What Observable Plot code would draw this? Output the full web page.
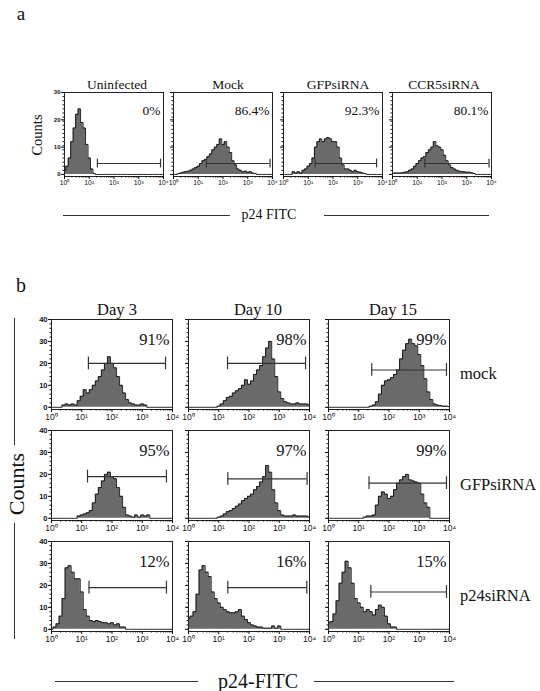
<!DOCTYPE html>
<html><head><meta charset="utf-8">
<script src="https://cdn.jsdelivr.net/npm/d3@7"></script>
<script src="https://cdn.jsdelivr.net/npm/@observablehq/plot@0.6"></script>
<style>
body{margin:0;background:#fff;}
#fig{position:relative;width:540px;height:691px;overflow:hidden;font-family:"Liberation Serif","Times New Roman",serif;color:#111;background:#fff;}
.t{position:absolute;white-space:nowrap;line-height:1;}
.ln{position:absolute;background:#333;}
</style></head><body><div id="fig"></div>
<script>
// log10 fluorescence channel positions (decades)
const channels = [0,0.1,0.2,0.3,0.4,0.5,0.6,0.7,0.8,0.9,1.0,1.1,1.2,1.3,1.4,1.5,1.6,1.7,1.8,1.9,2.0,2.1,2.2,2.3,2.4,2.5,2.6,2.7,2.8,2.9,3.0,3.1,3.2,3.3,3.4,3.5,3.6,3.7,3.8,3.9,4.0];
const xTickValues = [0,1,2,3,4];

// Panel a
const aTitles = ["Uninfected","Mock","GFPsiRNA","CCR5siRNA"];
const aPercents = ["0%","86.4%","92.3%","80.1%"];
const aUninfected = [1.5,3,6,12,17,22,24,19,17,11,6,2,0.3,0,0,0,0,0,0,0,0,0,0,0,0,0,0,0,0,0,0,0,0,0,0,0,0,0,0,0,0];
const aMock = [0,0,0.3,0.5,0.8,1,1.2,1.5,2,2.5,3,4,5,5.5,6.5,7.5,9,10,11,13,11,12,10,8,5,3.5,2,1.5,1,1.2,0.8,1,0.5,0.3,0,0,0,0,0,0,0];
const aGFPsiRNA = [0,0,0,0,1,0.5,1,0.5,1.5,2,3,4,6,10,12,13,12,13,13.5,13,12,12,10,6,3.5,2,2,1.5,1,1.5,1,0.8,0.5,0.3,0,0,0,0,0,0,0];
const aCCR5siRNA = [0.3,0.5,0.5,0.5,0.6,0.8,1,1.5,2,3,4,5,6,6.5,8,9,10,12,10.5,10,9,7,5,3.5,2.5,2,1.5,1.2,1,1,0.8,0.8,0.6,0.3,0,0,0,0,0,0,0];
const aGates = [[1.33,3.88,4],[1.33,3.9,4],[1.28,3.76,4],[1.31,3.9,4]];
const aYTicks = [0,10,20,30];

// Panel b
const bDays = ["Day 3","Day 10","Day 15"];
const bRows = ["mock","GFPsiRNA","p24siRNA"];
const bPercents = [["91%","98%","99%"],["95%","97%","99%"],["12%","16%","15%"]];
const bMockDay3 = [0,0,0,0,1,1.5,1,1.5,1,3,5,8,6.5,8,10,12,14,17,20,23,20,18,14,10,6.5,3.5,2,1.5,1,1,1.5,1,0,0,0,0,0,0,0,0,0];
const bMockDay10 = [0,0,0,0,0,0,0,0,0,0,0.5,1.5,3,4.5,5,6.5,7.5,8.5,10,12.5,10.5,12,15,17,19,23,27,30,22,14,7,4,2.5,2,1.5,1.5,2,1.5,1.5,1.5,1];
const bMockDay15 = [0,0,0,0,0,0,0,0,0,0,0,0,0,0,0.5,1,2.5,6,10,12,12.5,13.5,15,17,22,26,29,31,29,28,24,19,13,7,3.5,1.5,1,0.8,0.5,0.5,0.3];
const bGFPDay3 = [0,0,0,0,0,0,0,0,0,1,1.5,2,2.5,3.5,7,11,14,17,20,21,19,18,14,10,5,1.5,1,0.5,1.5,0.5,1.5,1,1.5,0,0,0,0,0,0,0,0];
const bGFPDay10 = [0,0,0,0,0,0,0,0,0,0,0.5,1,2,3,3.5,4.5,5.5,6.5,8,9,10,11,13,14.5,16.5,19,24,21,13,7,3.5,1.5,1,1,1,1.5,1,1,1,1,0.5];
const bGFPDay15 = [0,0,0,0,0,0,0,0,0,0,0,0,0.5,1,1,1.5,6,10,12,11,9,10,13,16,17.5,19,20,17.5,17,16.5,16,11,7,5,0,0,0,0,0,0,0];
const bP24Day3 = [0,1,2.5,6,14,28,29,26,23,23,17,9,6,4,3.5,4,3.5,3,3,2.5,3,2,2.5,1,1,0,0,0,0,0,0,0,0,0,0,0,0,0,0,0,0];
const bP24Day10 = [5,6,8,16,27,29,26,24,17,14,12,10,9,8,7.5,7.5,8,9,6,4.5,3,2,1.5,1,1,0.5,0.5,0.5,1.5,0.5,1.5,0,0,0,0,0,0,0,0,0,0];
const bP24Day15 = [3,3.5,7,13,21,26,31,28,21,14,12,10,8,9,8,6.5,9,11,10,6,2.5,1,1,0,0,0,0,0,0,0,0,0,0,0,0,0,0,0,0,0,0];
const bGates = [[[1.22,3.77,20],[1.29,3.87,20],[1.43,3.9,17]],
                [[1.19,3.8,19],[1.3,3.92,18],[1.34,3.9,16]],
                [[1.24,3.8,19],[1.3,3.91,19],[1.4,3.9,17]]];
const bYTicks = [0,10,20,30,40];

const fig = document.getElementById("fig");
const sup = {0:"\u2070",1:"\u00B9",2:"\u00B2",3:"\u00B3",4:"\u2074"};
const minorX = d3.range(0,4).flatMap(n => d3.range(2,10).map(k => n + Math.log10(k)));
const hasAxis = typeof Plot.axisX === "function";

function addText(s, x, y, size, opts = {}) {
  const d = document.createElement("div");
  d.className = "t"; d.textContent = s;
  d.style.left = x + "px"; d.style.top = y + "px"; d.style.fontSize = size + "px";
  const a = opts.anchor || "middle";
  const tx = a === "middle" ? "-50%" : a === "end" ? "-100%" : "0";
  d.style.transform = `translate(${tx},-50%)` + (opts.rotate ? ` rotate(${opts.rotate}deg)` : "");
  fig.appendChild(d);
}
function hline(x1, x2, y, w = 1) {
  const d = document.createElement("div"); d.className = "ln";
  d.style.left = x1 + "px"; d.style.top = y + "px"; d.style.width = (x2 - x1) + "px"; d.style.height = w + "px";
  fig.appendChild(d);
}
function vline(x, y1, y2, w = 1) {
  const d = document.createElement("div"); d.className = "ln";
  d.style.left = x + "px"; d.style.top = y1 + "px"; d.style.height = (y2 - y1) + "px"; d.style.width = w + "px";
  fig.appendChild(d);
}

function panel({counts, gate, pct, ymax, yTicks, showY, w, h, ML, pctSize, cap, tickFont, yFont, pctDy}) {
  const MR = 10, MT = 2, MB = 15;
  const data = channels.map((x, i) => ({x, y: counts[i]}));
  const yMinor = d3.range(0, ymax + 0.001, ymax / 20);
  const marks = [
    Plot.areaY(data, {x: "x", y: "y", curve: "step", fill: "#6a6a6a"}),
    Plot.lineY(data, {x: "x", y: "y", curve: "step", stroke: "#111", strokeWidth: 0.9}),
    Plot.ruleY([gate], {y: d => d[2], x1: d => d[0], x2: d => d[1], stroke: "#333", strokeWidth: 1.2}),
    Plot.ruleX([gate[0], gate[1]], {x: d => d, y1: gate[2] - cap, y2: gate[2] + cap, stroke: "#333", strokeWidth: 1.2}),
    Plot.text([pct], {frameAnchor: "top-right", text: d => d, dx: -3, dy: pctDy, fontSize: pctSize, fontFamily: "Liberation Serif, Times New Roman, serif", textAnchor: "end", fill: "#111"}),
    Plot.frame({stroke: "#222"})
  ];
  if (hasAxis) {
    marks.push(
      Plot.axisX(xTickValues, {tickFormat: d => "10" + sup[d], tickSize: 3, tickPadding: 1, fontSize: tickFont, label: null}),
      Plot.axisX(minorX, {tickFormat: () => "", tickSize: 1.5, label: null}),
      Plot.axisY(yTicks, {tickFormat: showY ? d => d : () => "", tickSize: 3, tickPadding: 1, fontSize: yFont, fontWeight: "bold", label: null}),
      Plot.axisY(yMinor, {tickFormat: () => "", tickSize: 1.5, label: null})
    );
  }
  const svg = Plot.plot({
    width: w + ML + MR, height: h + MT + MB,
    marginLeft: ML, marginRight: MR, marginTop: MT, marginBottom: MB,
    x: Object.assign({domain: [0, 4]}, hasAxis ? {} : {ticks: xTickValues, tickFormat: d => "10" + sup[d], tickSize: 3, label: null}),
    y: Object.assign({domain: [-ymax * 0.025, ymax]}, hasAxis ? {} : {ticks: yTicks, tickFormat: showY ? d => d : () => "", tickSize: 3, label: null}),
    style: {background: "transparent", overflow: "visible", fontFamily: "Liberation Sans, Arial, sans-serif", fontSize: tickFont + "px", color: "#111"},
    marks
  });
  return {svg, ML, MT};
}
function place(p, left, top) {
  const wrap = document.createElement("div");
  wrap.style.position = "absolute";
  wrap.style.left = (left - p.ML) + "px";
  wrap.style.top = (top - p.MT) + "px";
  wrap.appendChild(p.svg);
  fig.appendChild(wrap);
}

// ---------- Panel a ----------
addText("a", 21, 13, 19);
const aLefts = [64, 173, 283, 392];
const aTitleX = [117, 228, 338, 444];
const aSeries = [aUninfected, aMock, aGFPsiRNA, aCCR5siRNA];
aSeries.forEach((counts, i) => {
  const p = panel({counts, gate: aGates[i], pct: aPercents[i], ymax: 30, yTicks: aYTicks, showY: i === 0,
    w: 99, h: 84, ML: 12, pctSize: 13.5, cap: 1.6, tickFont: 6.8, yFont: 6, pctDy: 13});
  place(p, aLefts[i], 92);
  addText(aTitles[i], aTitleX[i], 85, 13.5);
});
addText("Counts", 37, 135, 14.5, {rotate: -90});
addText("p24 FITC", 269, 215, 14);
hline(63, 230, 215);
hline(324, 489, 215);

// ---------- Panel b ----------
addText("b", 21, 285, 20);
const bLefts = [51, 188, 328];
const bTops = [319, 430, 541];
const bTitleX = [117, 258, 393];
const bSeries = [[bMockDay3, bMockDay10, bMockDay15], [bGFPDay3, bGFPDay10, bGFPDay15], [bP24Day3, bP24Day10, bP24Day15]];
const bRowLabelY = [374, 485, 596];
bSeries.forEach((row, r) => {
  row.forEach((counts, c) => {
    const p = panel({counts, gate: bGates[r][c], pct: bPercents[r][c], ymax: 40, yTicks: bYTicks, showY: c === 0,
      w: 121, h: 90, ML: 20, pctSize: 16.5, cap: 2.9, tickFont: 8.5, yFont: 7.5, pctDy: 14});
    place(p, bLefts[c], bTops[r]);
  });
  addText(bRows[r], 460, bRowLabelY[r], 16.5, {anchor: "start"});
});
bDays.forEach((d, c) => addText(d, bTitleX[c], 310, 16.5));
addText("Counts", 17, 484, 22, {rotate: -90});
vline(14, 318, 445);
vline(14, 523, 639);
addText("p24-FITC", 258, 681, 20);
hline(55, 198, 681);
hline(314, 454, 681);
</script></body></html>
